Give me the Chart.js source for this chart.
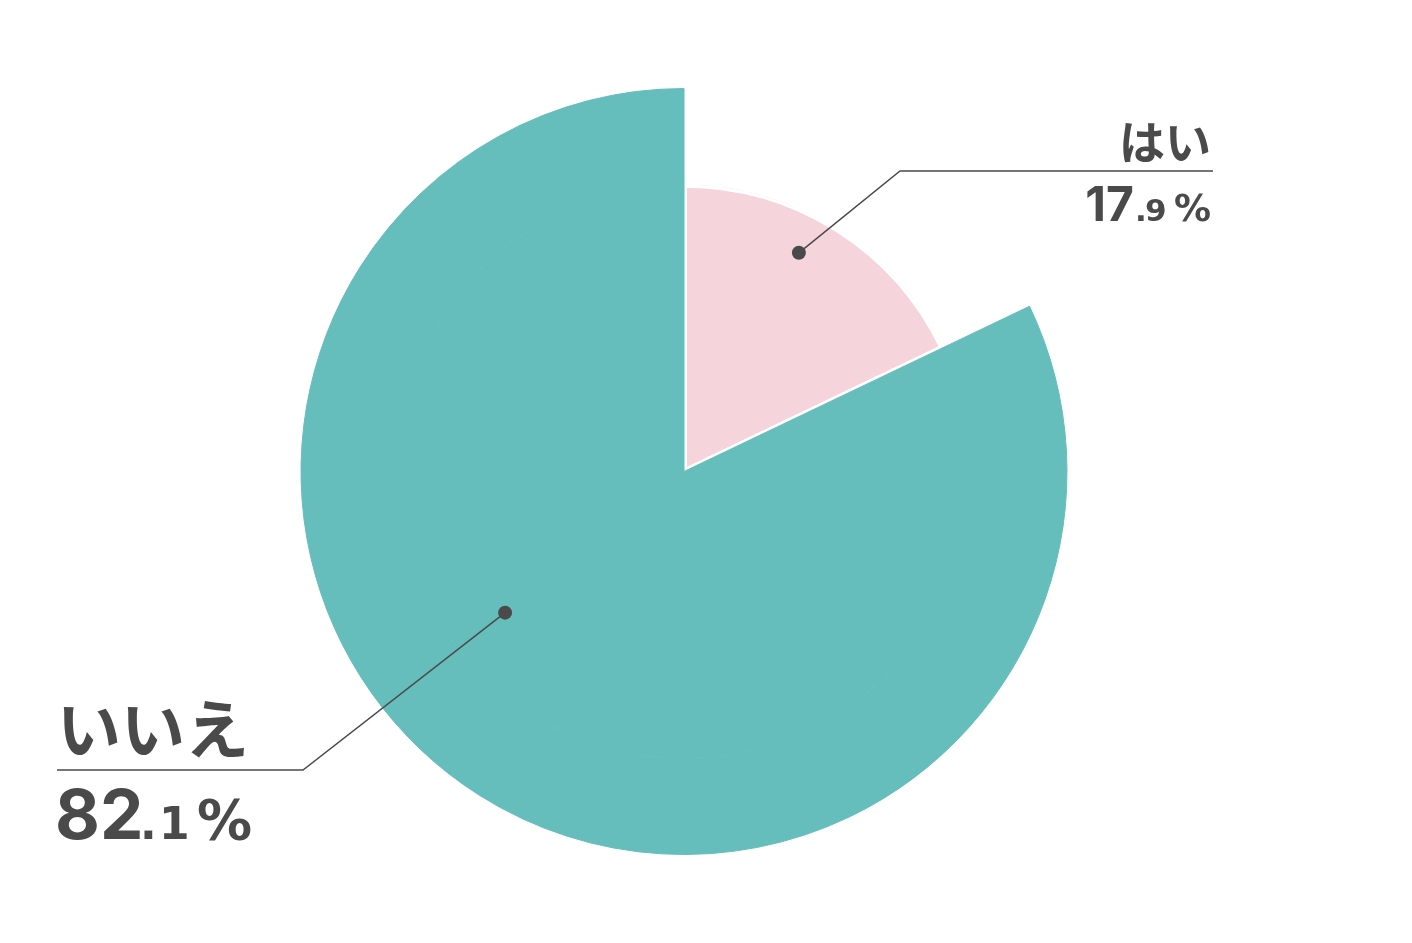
<!DOCTYPE html>
<html>
<head>
<meta charset="utf-8">
<script src="https://cdn.jsdelivr.net/npm/chart.js@4"></script>
<style>
  html, body { margin: 0; padding: 0; background: #fff; }
  #wrap { width: 1412px; height: 943px; }
</style>
</head>
<body>
<div id="wrap"><canvas id="chart" width="1412" height="943"></canvas></div>
<script>
const labels = ['はい', 'いいえ'];
const values = [17.9, 82.1];
const colors = ['#f5d5db', '#65bebc'];

const TEXT = '#4a4a4a';

// callout layout: elbow point, underline end, dot position inside the slice,
// font sizes for the value pieces and ink gaps between them
const callouts = [
  { elbowX: 900, lineY: 171, endX: 1213, align: 'right', inkEdge: 1210, angleFrac: 0.43, radiusFrac: 0.645,
    nameSize: 46, bigSize: 48, decSize: 31, pctSize: 37, baseOff: 50, gaps: [5, 2, 10] },
  { elbowX: 303, lineY: 770, endX: 57, align: 'left', inkEdge: 58, angleFrac: 0.566, radiusFrac: 0.595,
    nameSize: 64, bigSize: 69, decSize: 44, pctSize: 55, baseOff: 69, gaps: [4, 10, 11] }
];

function drawPieces(ctx, pieces, gaps, align, edge, base) {
  const ms = pieces.map(p => { ctx.font = p.font; return ctx.measureText(p.text); });
  const widths = ms.map(m => m.actualBoundingBoxLeft + m.actualBoundingBoxRight);
  const total = widths.reduce((s, w) => s + w, 0) + gaps.reduce((s, g) => s + g, 0);
  let cursor = align === 'right' ? edge - total : edge;
  pieces.forEach((p, k) => {
    ctx.font = p.font;
    const x = cursor + ms[k].actualBoundingBoxLeft;
    ctx.fillText(p.text, x, base);
    cursor = x + ms[k].actualBoundingBoxRight + (gaps[k] || 0);
  });
}

const calloutPlugin = {
  id: 'callouts',
  afterDraw(chart) {
    const ctx = chart.ctx;
    const outer = chart.getDatasetMeta(0).data;
    ctx.save();
    values.forEach((v, i) => {
      const c = callouts[i];
      const arc = outer[i];
      const a = arc.startAngle + (arc.endAngle - arc.startAngle) * c.angleFrac;
      const r = arc.outerRadius * c.radiusFrac;
      const dx = arc.x + Math.cos(a) * r;
      const dy = arc.y + Math.sin(a) * r;

      ctx.strokeStyle = TEXT;
      ctx.lineWidth = 1.5;
      ctx.beginPath();
      ctx.moveTo(dx, dy);
      ctx.lineTo(c.elbowX, c.lineY);
      ctx.lineTo(c.endX, c.lineY);
      ctx.stroke();

      ctx.fillStyle = TEXT;
      ctx.beginPath();
      ctx.arc(dx, dy, 7, 0, Math.PI * 2);
      ctx.fill();

      // category name above the line
      ctx.font = `bold ${c.nameSize}px "Noto Sans CJK JP"`;
      ctx.textBaseline = 'alphabetic';
      ctx.textAlign = c.align;
      ctx.fillText(labels[i], c.endX - (c.align === 'right' ? 2 : 0), c.lineY - c.nameSize * 0.26);

      // value below the line: big integer, smaller decimal, percent sign
      const parts = v.toFixed(1).split('.');
      ctx.textAlign = 'left';
      drawPieces(ctx, [
        { text: parts[0], font: `bold ${c.bigSize}px Inter` },
        { text: '.', font: `bold ${c.decSize}px "DejaVu Sans"` },
        { text: parts[1], font: `bold ${c.decSize}px "DejaVu Sans"` },
        { text: '%', font: `bold ${c.pctSize}px "DejaVu Sans"` }
      ], c.gaps, c.align, c.inkEdge, c.lineY + c.baseOff);
    });
    ctx.restore();
  }
};

new Chart(document.getElementById('chart'), {
  type: 'doughnut',
  data: {
    labels: labels,
    datasets: [
      {
        data: values,
        backgroundColor: ['rgba(0,0,0,0)', colors[1]],
        borderColor: ['rgba(0,0,0,0)', colors[1]],
        borderWidth: [0, 1],
        weight: 96
      },
      {
        data: values,
        backgroundColor: colors,
        borderColor: ['#ffffff', colors[1]],
        borderWidth: [3, 1],
        borderAlign: ['inner', 'center'],
        weight: 287
      }
    ]
  },
  options: {
    responsive: false,
    animation: false,
    cutout: 0,
    radius: 383,
    layout: { padding: { top: 88, bottom: 88, left: 0, right: 44 } },
    plugins: {
      legend: { display: false },
      tooltip: { enabled: false }
    }
  },
  plugins: [calloutPlugin]
});
</script>
</body>
</html>
